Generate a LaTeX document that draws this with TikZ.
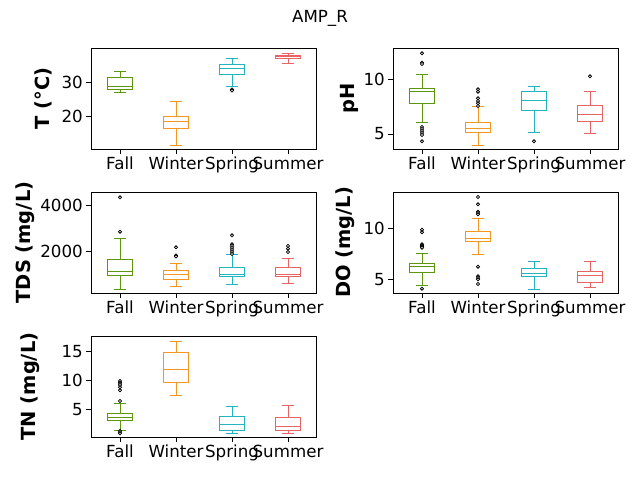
\documentclass[tikz,border=0pt]{standalone}
\usepackage{fontspec}
\setmainfont{DejaVu Sans}
\usepackage{tikz}

\definecolor{fallc}{RGB}{92,150,12}
\definecolor{winterc}{RGB}{245,150,35}
\definecolor{springc}{RGB}{35,180,192}
\definecolor{summerc}{RGB}{232,100,100}

\tikzset{
    axis/.style={line width=0.6pt, black},
    boxline/.style={line width=0.7pt},
    flier/.style={draw=black, line width=0.6pt, fill=white},
    ticklab/.style={font=\fontsize{12}{13}\selectfont},
    ylab/.style={font=\fontsize{14}{15}\bfseries\selectfont, rotate=90},
}

% one box: x, whisker top, q3, median, q1, whisker bottom, colour
\newcommand{\oneBox}[7]{
    \draw[boxline, #7] (#1-12.5,#3) rectangle (#1+12.5,#5);
    \draw[boxline, #7] (#1-12.5,#4) -- (#1+12.5,#4);
    \draw[boxline, #7] (#1,#3) -- (#1,#2) (#1-6.25,#2) -- (#1+6.25,#2);
    \draw[boxline, #7] (#1,#5) -- (#1,#6) (#1-6.25,#6) -- (#1+6.25,#6);
}
% outliers at x for a list of y
\newcommand{\fliers}[2]{
    \foreach \yy in {#2} {\draw[flier] (#1,\yy) circle (1.6);}
}
% axes frame with x tick labels: left, top, bottom
\newcommand{\panel}[3]{
    \draw[axis] (#1,#2) rectangle (#1+225,#3);
    \foreach \dx/\lab in {29/Fall, 85/Winter, 141/Spring, 197/Summer} {
        \draw[axis] (#1+\dx,#3) -- (#1+\dx,#3+5);
        \node[ticklab, anchor=north, inner sep=0pt] at (#1+\dx,#3+8) {\lab};
    }
}
% y tick: axis left, y, label
\newcommand{\ytick}[3]{
    \draw[axis] (#1,#2) -- (#1-5,#2);
    \node[ticklab, anchor=east, inner sep=0pt] at (#1-8,#2) {#3};
}

\begin{document}
\begin{tikzpicture}[x=0.72pt, y=-0.72pt]
    \useasboundingbox (0,0) rectangle (640,480);
    \node[ticklab] (title) at (320,18) {AMP\_R};

    % temperature
    \panel{91}{48}{149}
    \ytick{91}{82.3}{30} \ytick{91}{116.3}{20}
    \node[ylab] (lab1) at (43,98.5) {T\,\,(°C)};
    \oneBox{120}{71}{77.3}{86.7}{89.3}{92.3}{fallc}
    \oneBox{176}{101.3}{116.3}{121.7}{128.3}{145.3}{winterc}
    \oneBox{232}{58.3}{64.3}{68}{74.3}{86.3}{springc}
    \fliers{232}{89.5,90.5}
    \oneBox{288}{53.3}{55}{56.7}{58.3}{63.3}{summerc}

    % pH
    \panel{393}{48}{149}
    \ytick{393}{79.3}{10} \ytick{393}{134}{5}
    \node[ylab] (lab2) at (349,98.5) {pH};
    \oneBox{422}{74}{88.3}{91.7}{103.3}{122}{fallc}
    \fliers{422}{53.3,62.7,64,127,129,131,133,135,141.3}
    \oneBox{478}{106.3}{122.3}{128.3}{132.3}{145.3}{winterc}
    \fliers{478}{89.3,91.7,98.3,101,103.3,106}
    \oneBox{534}{86.3}{91.3}{100.3}{110.3}{132.3}{springc}
    \fliers{534}{141.3}
    \oneBox{590}{91.3}{105.3}{114}{121}{133.7}{summerc}
    \fliers{590}{76.3}

    % TDS
    \panel{91}{192}{293}
    \ytick{91}{205}{4000} \ytick{91}{251.3}{2000}
    \node[ylab] (lab3) at (25,242.5) {TDS (mg/L)};
    \oneBox{120}{238.7}{259.3}{271}{275.7}{289.3}{fallc}
    \fliers{120}{197.3,231.7}
    \oneBox{176}{263.3}{270.3}{274.3}{279.3}{286.7}{winterc}
    \fliers{176}{247.3,255.5,256.5}
    \oneBox{232}{254}{267.3}{274.7}{276.7}{284.3}{springc}
    \fliers{232}{235.3,244.3,246,248,250,252,254}
    \oneBox{288}{258.7}{267.3}{274.3}{276.7}{283.3}{summerc}
    \fliers{288}{246,248.7,252}

    % DO
    \panel{393}{192}{293}
    \ytick{393}{228.3}{10} \ytick{393}{279.3}{5}
    \node[ylab] (lab4) at (345,242.5) {DO (mg/L)};
    \oneBox{422}{253.3}{263.7}{266}{272.7}{285.3}{fallc}
    \fliers{422}{229.7,232.3,244.3,245.5,246.5,247.7,288.7}
    \oneBox{478}{218.3}{231.7}{238.3}{241.7}{254.3}{winterc}
    \fliers{478}{197,204.3,211.7,213,214.3,266.7,276.3,278,279.3,284}
    \oneBox{534}{261.3}{268.3}{273.3}{276.7}{289.3}{springc}
    \oneBox{590}{261.3}{271.3}{275.3}{282.7}{287.3}{summerc}

    % TN
    \panel{91}{336}{437}
    \ytick{91}{351.3}{15} \ytick{91}{380.3}{10} \ytick{91}{409.3}{5}
    \node[ylab] (lab5) at (30,386.5) {TN (mg/L)};
    \oneBox{120}{403}{413.3}{417.3}{420.7}{430}{fallc}
    \fliers{120}{381,382.5,384,385,387.3,390.3,401,431,432,433.3}
    \oneBox{176}{341.7}{352.3}{369.3}{382.3}{395.3}{winterc}
    \oneBox{232}{406.3}{416.3}{424.3}{430.3}{433.3}{springc}
    \oneBox{288}{405.3}{417.3}{426.3}{430.3}{433.3}{summerc}
\end{tikzpicture}
\end{document}
